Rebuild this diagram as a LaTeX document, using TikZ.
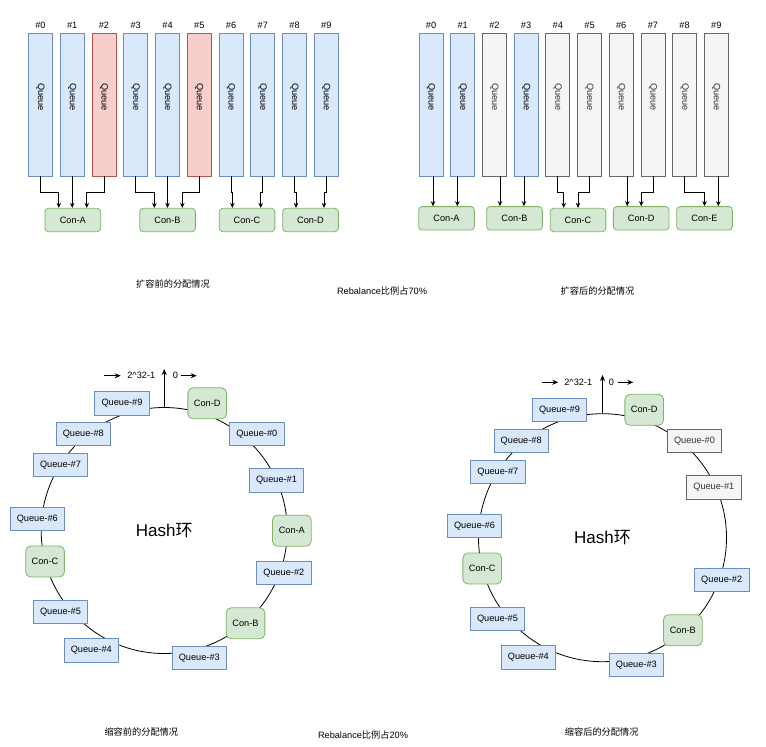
\documentclass[tikz,border=0pt]{standalone}
\usepackage{fontspec}
\setmainfont{Liberation Sans}
\newfontfamily\cjk{Noto Sans CJK SC}
\usetikzlibrary{arrows.meta,calc}
\definecolor{bfill}{HTML}{DAE8FC}
\definecolor{bline}{HTML}{6C8EBF}
\definecolor{rfill}{HTML}{F8CECC}
\definecolor{rline}{HTML}{B85450}
\definecolor{gfill}{HTML}{D5E8D4}
\definecolor{gline}{HTML}{82B366}
\definecolor{yfill}{HTML}{F5F5F5}
\definecolor{yline}{HTML}{666666}
\definecolor{ytext}{HTML}{333333}
\begin{document}
\begin{tikzpicture}[x=1pt,y=-1pt,
  font=\fontsize{9.2}{11}\selectfont,
  every node/.style={inner sep=0pt},
  qbase/.style={minimum width=24pt, minimum height=142.7pt, line width=0.8pt},
  qb/.style={qbase, draw=bline, fill=bfill},
  qr/.style={qbase, draw=rline, fill=rfill},
  qg/.style={qbase, draw=yline, fill=yfill},
  qtxt/.style={rotate=-90},
  con/.style={draw=gline, fill=gfill, line width=0.8pt, rounded corners=3.5pt, minimum width=55.7pt, minimum height=23.4pt},
  rq/.style={draw=bline, fill=bfill, line width=0.8pt, minimum width=54.5pt, minimum height=23.3pt},
  rqg/.style={draw=yline, fill=yfill, text=ytext, line width=0.8pt, minimum width=54.5pt, minimum height=23.3pt},
  rc/.style={draw=gline, fill=gfill, line width=0.8pt, rounded corners=5pt, minimum width=38.7pt, minimum height=31pt},
  ring/.style={circle, draw=black, line width=0.8pt, font=\fontsize{17}{20}\selectfont},
  arr/.style={draw=black, line width=0.8pt, -{Stealth[length=5pt,width=4.5pt]}},
  big/.style={draw=black, line width=1pt, -{Stealth[length=6pt,width=5pt]}},
  captext/.style={font=\fontsize{9.2}{11}\selectfont}
]
\useasboundingbox (0,0) rectangle (766,747);

% ---------- top-left: before scale-out ----------
\foreach \i/\s in {0/qb,1/qb,2/qr,3/qb,4/qb,5/qr,6/qb,7/qb,8/qb,9/qb} {
  \node[\s] (L\i) at ({40.5+31.75*\i},104.65) {};
  \node[qtxt] (L\i t) at ({40.5+31.75*\i},97) {Queue};
  \node (L\i h) at ({40.5+31.75*\i},25.7) {\#\i};
}
\node[con] (LA) at (72.8,220) {Con-A};
\node[con] (LB) at (167.5,220) {Con-B};
\node[con] (LC) at (247,220) {Con-C};
\node[con] (LD) at (310.5,220) {Con-D};

\draw[arr] (L0.south) -- ++(0,15.7) -| ([xshift=-14pt]LA.north);
\draw[arr] (L1.south) -- (L1.south |- LA.north);
\draw[arr] (L2.south) -- ++(0,15.7) -| ([xshift=14pt]LA.north);
\draw[arr] (L3.south) -- ++(0,15.7) -| ([xshift=-13.2pt]LB.north);
\draw[arr] (L4.south) -- (L4.south |- LB.north);
\draw[arr] (L5.south) -- ++(0,15.7) -| ([xshift=14.8pt]LB.north);
\draw[arr] (L6.south) -- ++(0,15.7) -| ([xshift=-14.7pt]LC.north);
\draw[arr] (L7.south) -- ++(0,15.7) -| ([xshift=13.7pt]LC.north);
\draw[arr] (L8.south) -- ++(0,15.7) -| ([xshift=-14.5pt]LD.north);
\draw[arr] (L9.south) -- ++(0,15.7) -| ([xshift=13.5pt]LD.north);

% ---------- top-right: after scale-out ----------
\foreach \i/\s in {0/qb,1/qb,2/qg,3/qb,4/qg,5/qg,6/qg,7/qg,8/qg,9/qg} {
  \node[\s] (R\i) at ({431+31.7*\i},104.65) {};
  \node (R\i h) at ({431+31.7*\i},25.7) {\#\i};
}
\foreach \i in {0,1,3} { \node[qtxt] (R\i t) at ({431+31.7*\i},97) {Queue}; }
\foreach \i in {2,4,5,6,7,8,9} { \node[qtxt,text=ytext] (R\i t) at ({431+31.7*\i},97) {Queue}; }

\node[con] (RA) at (446.5,218.3) {Con-A};
\node[con] (RB) at (514.5,218.3) {Con-B};
\node[con] (RC) at (578,220) {Con-C};
\node[con] (RD) at (641.2,218.3) {Con-D};
\node[con] (RE) at (704.5,218.3) {Con-E};

\draw[arr] ([xshift=2pt]R0.south) -- ([xshift=2pt]R0.south |- RA.north);
\draw[arr] ([xshift=-5.4pt]R1.south) -- ([xshift=-5.4pt]R1.south |- RA.north);
\draw[arr] ([xshift=5.6pt]R2.south) -- ([xshift=5.6pt]R2.south |- RB.north);
\draw[arr] ([xshift=-2.1pt]R3.south) -- ([xshift=-2.1pt]R3.south |- RB.north);
\draw[arr] (R4.south) -- ++(0,15.7) -| ([xshift=-14.3pt]RC.north);
\draw[arr] (R5.south) -- ++(0,15.7) -| (RC.north);
\draw[arr] ([xshift=6.1pt]R6.south) -- ([xshift=6.1pt]R6.south |- RD.north);
\draw[arr] (R7.south) -- ++(0,15.7) -| (RD.north);
\draw[arr] (R8.south) -- ++(0,15.7) -| (RE.north);
\draw[arr] ([xshift=2pt]R9.south) -- ([xshift=2pt]R9.south |- RE.north);

% captions top
\node[captext] (c1) at (173,284.3) {{\cjk 扩容前的分配情况}};
\node[captext] (c2) at (382,290.7) {Rebalance{\cjk 比例占}70\%};
\node[captext] (c3) at (597.5,290.7) {{\cjk 扩容后的分配情况}};

% ---------- bottom-left ring ----------
\node[ring, minimum size=246pt] (ring1) at (164.2,530.5) {Hash{\cjk 环}};
\coordinate (t1) at (164.2,369);
\draw[big] (ring1.north) -- (t1);
\coordinate (a1s) at (104.3,375.7); \coordinate (a1e) at (120.7,375.7);
\draw[big] (a1s) -- (a1e);
\node (m1) at (141.3,375.7) {2\textasciicircum 32-1};
\node (z1) at (175.5,375.7) {0};
\coordinate (b1s) at (181,375.7); \coordinate (b1e) at (196.7,375.7);
\draw[big] (b1s) -- (b1e);

\node[rq] (l9) at (122,403.3) {Queue-\#9};
\node[rc] (lD) at (207.2,403.3) {Con-D};
\node[rq] (l0) at (256.8,433.8) {Queue-\#0};
\node[rq] (l8) at (83.3,433.8) {Queue-\#8};
\node[rq] (l7) at (60.5,465) {Queue-\#7};
\node[rq] (l1) at (276.5,480.3) {Queue-\#1};
\node[rq] (l6) at (37.3,519.2) {Queue-\#6};
\node[rc] (lA) at (291.8,530.7) {Con-A};
\node[rc] (lC) at (45,561.5) {Con-C};
\node[rq] (l2) at (283.8,572.7) {Queue-\#2};
\node[rq] (l5) at (60.5,611.7) {Queue-\#5};
\node[rc] (lB) at (245.5,623.3) {Con-B};
\node[rq] (l4) at (91.3,650.3) {Queue-\#4};
\node[rq] (l3) at (199.3,658) {Queue-\#3};

% ---------- bottom-right ring ----------
\node[ring, minimum size=248pt] (ring2) at (602.5,537.7) {Hash{\cjk 环}};
\coordinate (t2) at (602.5,375);
\draw[big] (ring2.north) -- (t2);
\coordinate (a2s) at (541.7,382.3); \coordinate (a2e) at (558.3,382.3);
\draw[big] (a2s) -- (a2e);
\node (m2) at (578.3,382.3) {2\textasciicircum 32-1};
\node (z2) at (611.5,382.3) {0};
\coordinate (b2s) at (617.7,382.3); \coordinate (b2e) at (633.3,382.3);
\draw[big] (b2s) -- (b2e);

\node[rq] (r9) at (559.5,410) {Queue-\#9};
\node[rc] (rD) at (644.2,409.8) {Con-D};
\node[rq] (r8) at (521.2,440.8) {Queue-\#8};
\node[rqg] (r0) at (694.5,440.8) {Queue-\#0};
\node[rq] (r7) at (497.8,471.7) {Queue-\#7};
\node[rqg] (r1) at (713.8,487.3) {Queue-\#1};
\node[rq] (r6) at (474.5,525.7) {Queue-\#6};
\node[rc] (rC) at (482.2,568.5) {Con-C};
\node[rq] (r2) at (721.7,580) {Queue-\#2};
\node[rq] (r5) at (497.5,618.7) {Queue-\#5};
\node[rc] (rB) at (682.8,630.3) {Con-B};
\node[rq] (r4) at (528.3,657.3) {Queue-\#4};
\node[rq] (r3) at (636.3,665) {Queue-\#3};

% captions bottom
\node[captext] (c4) at (141.3,732.3) {{\cjk 缩容前的分配情况}};
\node[captext] (c5) at (363,735) {Rebalance{\cjk 比例占}20\%};
\node[captext] (c6) at (601.7,732.3) {{\cjk 缩容后的分配情况}};
\end{tikzpicture}
\end{document}
